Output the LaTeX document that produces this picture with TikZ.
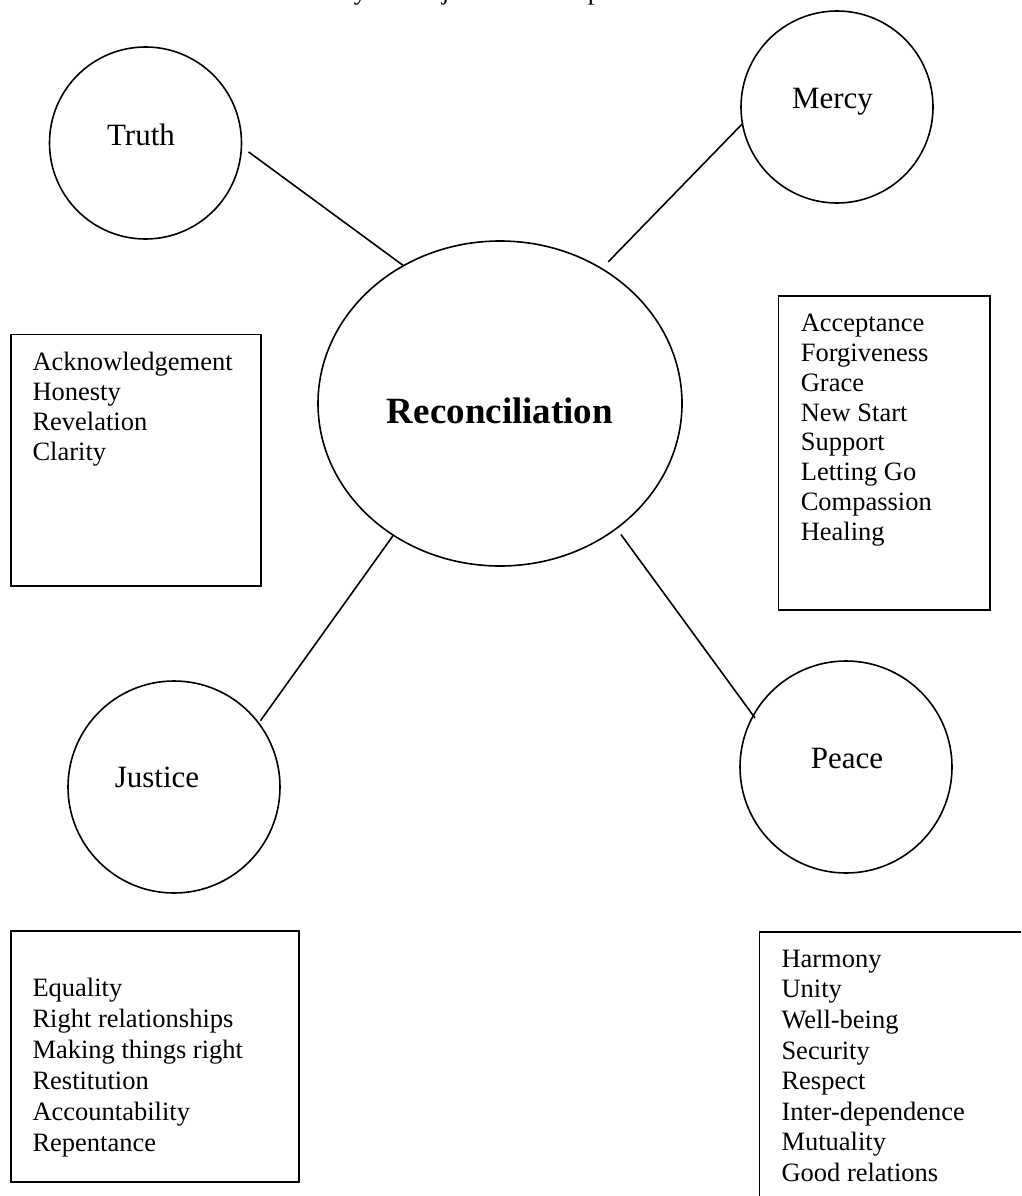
\documentclass[tikz,border=0pt]{standalone}
\usepackage{fontspec}
\setmainfont{Liberation Serif}
\usetikzlibrary{shapes.geometric}
\begin{document}
\begin{tikzpicture}[x=1pt,y=-1pt,line width=1.6pt,
  bubble/.style={circle,draw,inner sep=0pt,outer sep=0pt,minimum size=#1},
  core/.style={ellipse,draw,inner sep=0pt,outer sep=0pt,minimum width=364pt,minimum height=325pt},
  bubtxt/.style={anchor=base,inner sep=0pt,font=\fontsize{31}{36}\selectfont},
  coretxt/.style={anchor=base,inner sep=0pt,font=\fontsize{37}{42}\selectfont\bfseries},
  listbox/.style={draw,rectangle,inner sep=0pt,outer sep=0pt,minimum width=#1},
  listtxt/.style={anchor=base west,inner sep=0pt,font=\fontsize{26.5}{#1}\selectfont},
  frag/.style={anchor=base west,inner sep=0pt,font=\fontsize{26.5}{30}\selectfont},
  link/.style={draw,line width=1.6pt}]
\useasboundingbox (0,0) rectangle (1021,1196);
\clip (0,0) rectangle (1021,1196);
\fill[white] (0,0) rectangle (1021,1196);

% cut-off title fragments at the top edge (as in the reference)
\node[frag] (fy) at (353,-0.8) {y};
\node[frag] (fj) at (441,-0.8) {j};
\node[frag] (fp) at (587,-0.8) {p};

% centre
\node[core] (recon) at (500,403.5) {};
\node[coretxt] (reconT) at (500,423.3) {Reconciliation};

% bubbles
\node[bubble=192pt] (truth) at (145.5,143) {};
\node[bubtxt] (truthT) at (141,145.3) {Truth};
\node[bubble=192pt] (mercy) at (837,107) {};
\node[bubtxt] (mercyT) at (832.5,108.3) {Mercy};
\node[bubble=212pt] (justice) at (174,787) {};
\node[bubtxt] (justiceT) at (157,787.3) {Justice};
\node[bubble=212pt] (peace) at (846,767) {};
\node[bubtxt] (peaceT) at (847,768.3) {Peace};

% connectors
\draw[link] ([shift={(7.5,0.6)}]truth.-5) -- (recon.125.5);
\draw[link,shorten >=9.5pt] (mercy.190.6) -- (recon.53.6);
\draw[link,shorten <=3pt] (justice.37.9) -- (recon.231.3);
\draw[link,shorten <=7.5pt,shorten >=-3pt] (recon.-47.6) -- (peace.151.8);

% boxes
\node[listbox=250.3pt,minimum height=251.4pt] (truthbox) at (135.9,460) {};
\node[listtxt=30] (truthL) at (31.7,370) {\begin{tabular}[t]{@{}l@{}}Acknowledgement\\Honesty\\Revelation\\Clarity\end{tabular}};

\node[listbox=211.7pt,minimum height=314pt] (mercybox) at (884.2,453) {};
\node[listtxt=29.8] (mercyL) at (800,331.7) {\begin{tabular}[t]{@{}l@{}}Acceptance\\Forgiveness\\Grace\\New Start\\Support\\Letting Go\\Compassion\\Healing\end{tabular}};

\node[listbox=288.3pt,minimum height=250.7pt] (justicebox) at (154.9,1056.4) {};
\node[listtxt=31] (justiceL) at (31.7,996.3) {\begin{tabular}[t]{@{}l@{}}Equality\\Right relationships\\Making things right\\Restitution\\Accountability\\Repentance\end{tabular}};

\node[listbox=270.7pt,minimum height=278.3pt] (peacebox) at (894.7,1070.9) {};
\node[listtxt=30.6] (peaceL) at (780.7,967.3) {\begin{tabular}[t]{@{}l@{}}Harmony\\Unity\\Well-being\\Security\\Respect\\Inter-dependence\\Mutuality\\Good relations\end{tabular}};
\end{tikzpicture}
\end{document}
